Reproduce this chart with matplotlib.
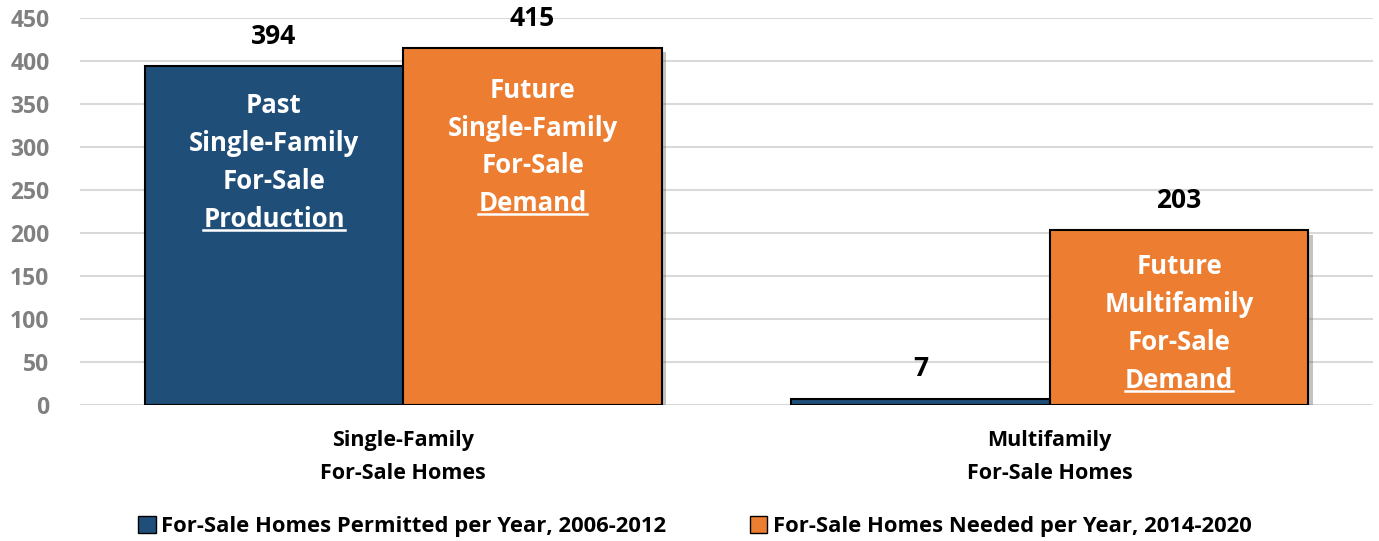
import matplotlib
matplotlib.use("Agg")
import matplotlib.pyplot as plt
import matplotlib.patheffects as pe
from matplotlib.patches import Patch
from matplotlib.lines import Line2D

plt.rcParams['font.family'] = ['Open Sans', 'DejaVu Sans']
plt.rcParams['font.weight'] = 'bold'

categories = ["Single-Family\nFor-Sale Homes", "Multifamily\nFor-Sale Homes"]
permitted = [394, 7]
needed = [415, 203]
series_names = ["For-Sale Homes Permitted per Year, 2006-2012",
                "For-Sale Homes Needed per Year, 2014-2020"]
inner_labels = [
    (0, 0, ["Past", "Single-Family", "For-Sale", "Production"], 282),
    (0, 1, ["Future", "Single-Family", "For-Sale", "Demand"], 300),
    (1, 1, ["Future", "Multifamily", "For-Sale", "Demand"], 95),
]

blue = "#1f4e79"
orange = "#ed7d31"
w = 0.4

fig = plt.figure(figsize=(13.79, 5.41), dpi=100)
ax = fig.add_axes([0.058, 0.2514, 0.9377, 0.7153])

x = [0, 1]
shadow = [pe.SimplePatchShadow(offset=(3, -3), alpha=0.35, shadow_rgbFace="#555555"), pe.Normal()]
b1 = ax.bar([i - w / 2 for i in x], permitted, w, color=blue, edgecolor="black", linewidth=1.5, zorder=3)
b2 = ax.bar([i + w / 2 for i in x], needed, w, color=orange, edgecolor="black", linewidth=1.5, zorder=3)
for b in list(b1) + list(b2):
    b.set_path_effects(shadow)

# value labels above bars
for i in x:
    ax.text(i - w / 2, permitted[i] + 35, str(permitted[i]), ha="center", va="center",
            fontsize=19, fontweight="bold", color="black")
    ax.text(i + w / 2, needed[i] + 35, str(needed[i]), ha="center", va="center",
            fontsize=19, fontweight="bold", color="black")

# labels inside bars
line_step = 44
underline_texts = []
for cat, ser, lines, mid in inner_labels:
    xc = cat - w / 2 if ser == 0 else cat + w / 2
    n = len(lines)
    for k, s in enumerate(lines):
        yy = mid + (n - 1) / 2 * line_step - k * line_step
        t = ax.text(xc, yy, s, ha="center", va="center", fontsize=18.5,
                    fontweight="bold", color="white", zorder=5)
        if k == n - 1:
            underline_texts.append(t)

ax.set_xlim(-0.5, 1.5)
ax.set_ylim(0, 450)
ax.set_yticks(range(0, 451, 50))
ax.set_xticks(x)
ax.set_xticklabels(categories, fontsize=15.5, fontweight="bold", linespacing=1.75)
ax.tick_params(axis="x", length=0, pad=18)
ax.tick_params(axis="y", length=0, pad=22, labelsize=16.5, labelcolor="#808080")
for lab in ax.get_yticklabels():
    lab.set_fontweight("bold")
ax.grid(axis="y", color="#d9d9d9", linewidth=1.5, zorder=0)
ax.set_axisbelow(True)
for sp in ax.spines.values():
    sp.set_visible(False)

handles = [Patch(facecolor=blue, edgecolor="black", linewidth=1.0),
           Patch(facecolor=orange, edgecolor="black", linewidth=1.0)]
fig.legend(handles, series_names, loc="center", bbox_to_anchor=(0.504, 0.026),
           ncol=2, frameon=False, handlelength=0.8, handleheight=0.8,
           handletextpad=0.25, columnspacing=3.8, prop={"weight": "bold", "size": 15.8})

# underline last line of inner labels
fig.canvas.draw()
r = fig.canvas.get_renderer()
inv = fig.transFigure.inverted()
for t in underline_texts:
    bb = t.get_window_extent(r)
    (x0, y0), (x1, y1) = inv.transform([(bb.x0, bb.y0 + 3), (bb.x1, bb.y0 + 3)])
    fig.add_artist(Line2D([x0, x1], [y0, y1], color="white", linewidth=1.8, zorder=6))

fig.savefig("out.png", dpi=100)
